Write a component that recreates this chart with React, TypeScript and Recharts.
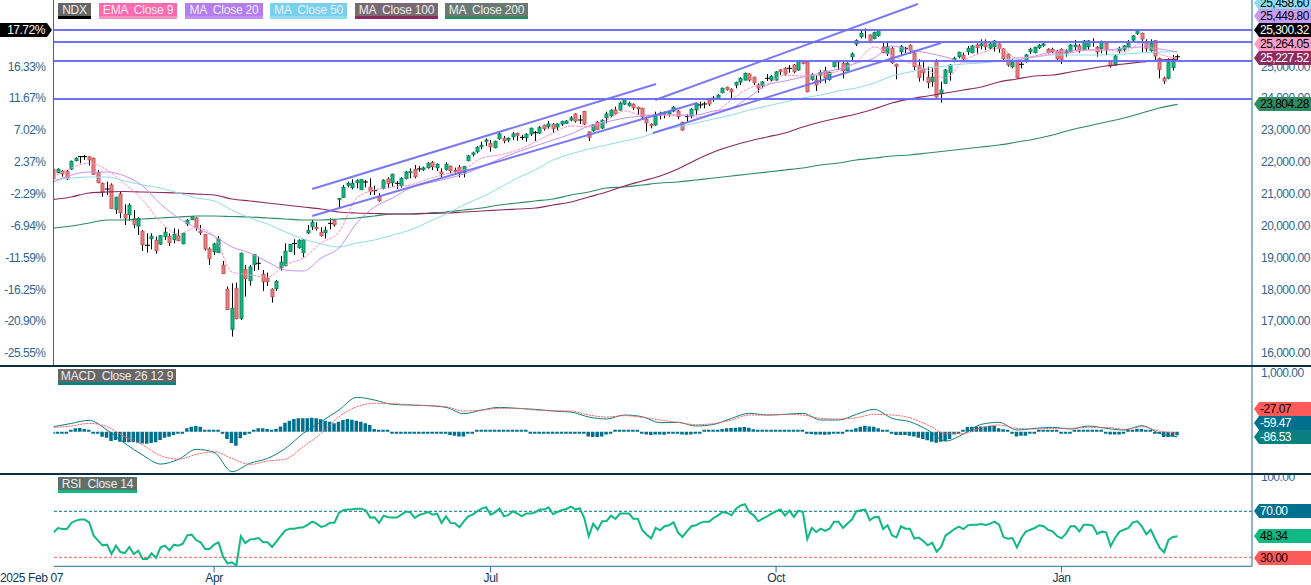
import {
  Bar,
  ComposedChart,
  Line,
  ReferenceLine,
  XAxis,
  YAxis,
} from "recharts";

const opens = [
  21767,21663,21705,21694,21778,22039,22165,22165,22154,22112,
  21663,21326,21148,21274,20510,20992,20353,20343,20217,19987,
  19820,19381,19590,19538,19422,19653,19663,19558,19674,19433,
  20061,20186,20238,19820,19715,19266,19182,19151,18753,17999,
  16745,18031,17090,18628,18272,18774,18816,18471,18345,17999,
  18021,18680,18743,19192,19433,19307,19151,19778,19966,19945,
  19789,19778,20071,20155,20824,20887,21263,21190,21347,21128,
  21368,21201,21096,20908,21170,21463,21348,21327,21254,21484,
  21662,21766,21777,21766,21818,21986,21818,21682,21766,21860,
  21735,21829,21662,22038,22237,22321,22477,22645,22582,22446,
  22728,22739,22687,22791,22896,22770,22760,22875,22917,22906,
  23147,23105,23178,23095,23189,23210,23314,23502,23314,23586,
  22938,22979,23241,23063,23387,23450,23628,23628,23816,23774,
  23806,23712,23680,23325,23178,23157,23471,23503,23513,23597,
  23597,23231,23420,23441,23629,23786,23817,23943,23995,23995,
  24173,24340,24277,24413,24507,24570,24758,24654,24413,24403,
  24623,24570,24570,24884,24936,24936,25041,24884,25146,25125,
  24591,24570,24727,24863,24591,24989,25146,25093,24863,25302,
  25700,25930,26139,25982,25878,25961,25606,25407,25564,25062,
  25459,25564,25658,25417,25010,24905,24654,24518,25135,24152,
  24466,24811,25146,25302,25344,25459,25428,25669,25648,25742,
  25574,25616,25700,25543,25376,24989,25177,25062,25146,25459,
  25428,25585,25658,25533,25533,25480,25533,25417,25459,25616,
  25637,25533,25616,25752,25595,25564,25721,25177,25041,25491,
  25533,25616,25825,26035,26035,25742,25491,25804,25250,24623,
  24623,24957,25300,
];

const closes = [
  21485,21767,21621,21464,22018,22112,22165,22165,22060,21610,
  21349,21044,21148,20542,20887,20406,20238,20636,20029,20217,
  19402,19381,19663,19213,19684,19789,19464,19726,19527,19757,
  20165,20280,19945,19778,19266,18962,19422,19579,18492,17362,
  17404,17079,19130,18335,18701,19088,18816,18240,18240,17770,
  18251,18847,19192,19412,19433,19538,19548,19851,20102,19904,
  19684,19851,20071,20029,20855,21201,21326,21326,21410,21441,
  21368,21065,21096,20782,21421,21316,21609,21327,21484,21682,
  21693,21536,21777,21808,21954,21850,21923,21630,21923,21724,
  21703,21641,21850,22185,22279,22446,22519,22687,22477,22645,
  22875,22666,22739,22875,22833,22770,22864,23053,22917,23074,
  23042,23189,23042,23189,23262,23283,23377,23283,23314,23189,
  22770,23168,23021,23304,23502,23617,23513,23837,23942,23837,
  23701,23670,23408,23230,23147,23482,23524,23555,23565,23712,
  23419,23001,23420,23650,23838,23786,23817,23817,23995,24089,
  24309,24277,24204,24487,24623,24779,24570,24487,24319,24507,
  24623,24675,24821,24832,24758,24936,24832,25146,25093,24204,
  24727,24413,24811,24643,24800,25146,25146,24863,25093,25386,
  25804,26035,26139,25752,26055,26118,25438,25606,25114,25000,
  25616,25564,25512,24989,24654,24800,24487,24654,24037,24256,
  24884,25041,25250,25438,25229,25564,25637,25585,25700,25616,
  25700,25794,25564,25240,25041,25125,24643,25062,25355,25533,
  25595,25658,25700,25428,25459,25240,25219,25480,25669,25669,
  25491,25794,25794,25752,25449,25773,25543,25010,25323,25564,
  25637,25721,25951,26118,25857,25564,25721,25323,24905,24539,
  25114,25219,25300,
];

const highs = [
  21799,21799,21746,21746,22039,22144,22186,22217,22186,22133,
  21746,21347,21379,21326,20908,21065,20667,20699,20489,20259,
  19862,19757,19757,19653,19705,19945,19757,19914,19883,19767,
  20207,20301,20259,20019,19726,19318,19464,19674,18889,18084,
  18188,18209,19151,18764,18764,19109,19025,18607,18523,18031,
  18293,19046,19443,19422,19569,19569,19569,20019,20176,20102,
  19945,19966,20228,20207,20855,21274,21379,21452,21452,21452,
  21431,21483,21253,21012,21452,21515,21630,21400,21515,21714,
  21797,21902,21871,21850,21996,22028,21954,21797,21986,21881,
  21818,21902,21871,22216,22320,22498,22634,22739,22687,22666,
  22917,22812,22770,22938,22917,22843,22896,23074,22969,23126,
  23168,23283,23210,23210,23293,23314,23440,23523,23471,23597,
  22959,23189,23283,23335,23576,23649,23733,23890,23963,23890,
  23837,23733,23701,23419,23210,23576,23576,23576,23607,23753,
  23628,23263,23493,23681,23859,23890,23890,23995,24068,24131,
  24330,24361,24309,24518,24654,24800,24779,24675,24466,24539,
  24759,24727,24853,24915,24968,25041,25072,25166,25166,25146,
  24779,24727,24884,24989,24832,25177,25198,25146,25125,25438,
  25846,26139,26191,26000,26087,26139,25773,25773,25616,25083,
  25669,25616,25689,25449,25219,25198,24989,24936,25219,24518,
  24915,25062,25302,25459,25428,25637,25669,25721,25846,25846,
  25742,25825,25721,25564,25407,25219,25198,25177,25386,25585,
  25616,25700,25742,25564,25585,25512,25564,25533,25700,25825,
  25700,25825,25825,25878,25637,25804,25742,25198,25355,25616,
  25669,25825,25982,26160,26056,25846,25846,25825,25271,24675,
  25250,25355,25376,
];

const lows = [
  21454,21642,21537,21433,21746,22018,21956,22060,21882,21590,
  21328,20908,20960,20521,20364,20228,20019,20155,19914,19705,
  19203,19151,19255,19119,19391,19548,19360,19443,19506,19412,
  19987,20176,19841,19705,19213,18763,19077,19140,18481,17351,
  16515,17058,17038,17770,18115,18575,18607,17948,18105,17582,
  17948,18586,18722,19171,19077,19276,19004,19736,19862,19841,
  19653,19590,19883,19966,20573,20866,21201,21138,21169,21117,
  21201,20960,20960,20751,21139,21170,21222,21149,21191,21452,
  21484,21484,21693,21714,21787,21745,21714,21515,21724,21641,
  21588,21515,21515,22017,22164,22268,22394,22498,22320,22425,
  22687,22582,22613,22687,22666,22687,22634,22812,22655,22875,
  22979,23042,22917,23000,23126,23189,23272,23230,23189,23157,
  22655,22948,23000,23032,23210,23398,23471,23607,23785,23733,
  23628,23471,23314,22948,23053,23136,23335,23367,23419,23555,
  23335,22980,23263,23367,23472,23681,23681,23754,23890,23974,
  24152,24236,23995,24309,24413,24549,24518,24413,24173,24309,
  24539,24518,24549,24727,24696,24800,24779,24863,25062,24183,
  24549,24225,24466,24466,24549,24968,24884,24623,24853,25198,
  25637,25878,25878,25721,25846,25930,25407,25323,25072,24591,
  25355,25407,25407,24884,24518,24549,24309,24361,24016,23859,
  24445,24549,25125,25250,25146,25355,25407,25407,25533,25512,
  25533,25459,25428,25198,24989,24936,24623,24936,25114,25386,
  25407,25543,25616,25407,25407,25198,25072,25302,25438,25512,
  25428,25512,25512,25616,25302,25407,25355,24957,25020,25407,
  25459,25564,25773,25982,25438,25459,25459,25146,24623,24445,
  24591,24863,25198,
];

// moving averages and the two MACD lines are read every fourth session
const SAMPLE = 4;

const ema9 = [
  21525,21808,21964,21745,21305,20803,20112,19736,19924,19673,
  18543,18449,18386,18763,18982,19453,19799,20866,21117,21211,
  21274,21462,21619,21745,22121,22216,22373,22624,22906,23126,
  23094,23314,23597,23471,23471,23471,23408,23534,23942,24319,
  24444,24727,24695,24727,24852,25135,25606,25323,25103,24884,
  24633,25166,25417,25574,25260,25292,25386,25417,25511,25511,
  25449,25731,25386,25264,
];
const ma20 = [
  21368,21588,21682,21682,21556,21243,20677,20238,19924,19673,
  19328,19139,18857,18606,18574,18982,19296,20081,20583,20866,
  21180,21337,21462,21619,21839,22090,22310,22498,22686,22875,
  23126,23251,23377,23440,23471,23471,23471,23597,23691,24036,
  24413,24538,24664,24789,24915,25103,25260,25637,25511,25417,
  25292,25135,25135,25166,25197,25323,25449,25480,25511,25511,
  25574,25606,25543,25450,
];
const ma50 = [
  21431,21494,21525,21525,21399,21274,21180,21023,20866,20772,
  20489,20238,20050,19799,19579,19422,19328,19453,19547,19704,
  19861,20112,20363,20646,20897,21180,21494,21745,22059,22247,
  22404,22529,22655,22781,22969,23094,23220,23345,23471,23628,
  23754,23879,24005,24099,24225,24319,24476,24695,24821,24946,
  25009,25072,25103,25166,25260,25292,25354,25354,25354,25354,
  25386,25417,25449,25459,
];
const ma100 = [
  20819,20897,21023,21054,21070,21054,21038,21023,20991,20960,
  20834,20772,20709,20646,20583,20520,20426,20395,20379,20363,
  20363,20379,20395,20426,20458,20489,20520,20552,20646,20740,
  20897,21054,21243,21399,21556,21776,22059,22310,22498,22655,
  22781,22906,23094,23251,23377,23502,23659,23848,23973,24068,
  24162,24256,24350,24507,24601,24695,24727,24821,24915,25009,
  25072,25135,25197,25227,
];
const ma200 = [
  19924,19987,20081,20175,20175,20207,20238,20269,20301,20301,
  20285,20269,20238,20207,20175,20175,20207,20238,20301,20363,
  20363,20395,20426,20489,20552,20646,20709,20772,20834,20960,
  21054,21180,21211,21274,21337,21368,21431,21494,21556,21619,
  21682,21745,21808,21902,21964,22059,22121,22184,22216,22278,
  22341,22404,22467,22529,22624,22718,22843,23000,23126,23251,
  23377,23534,23691,23804,
];

const hLevels = [26139, 25763, 25166, 23973];

// [first session, first price, last session, last price]
const channels = [
  [58, 21148, 135.1, 24444],
  [58, 20301, 144.3, 23848],
  [134.9, 23942, 193.8, 26955],
  [134.4, 22906, 199, 25731],
];

const priceTicks = [16000, 17000, 18000, 19000, 20000, 21000, 22000, 23000, 24000, 25000];
const pctTicks = [-25.55, -20.9, -16.25, -11.59, -6.94, -2.29, 2.37, 7.02, 11.67, 16.33];
const BASE_PRICE = 21490;

const macdHist = [
  -17,-17,-17,-11,29,57,63,46,23,-11,
  -34,-86,-103,-160,-143,-171,-182,-182,-182,-188,
  -200,-205,-194,-182,-143,-103,-86,-57,-29,-17,
  57,86,97,86,29,17,17,23,-23,-125,
  -194,-239,-114,-57,-34,17,57,57,46,17,
  46,91,154,188,217,228,228,228,239,228,
  211,188,171,143,171,200,217,205,188,171,
  143,114,46,34,29,17,-6,-6,-6,-11,
  -11,-6,-11,-23,-23,-17,-23,-29,-34,-57,
  -68,-80,-80,-34,-23,6,17,29,34,34,
  34,29,17,17,11,11,3,-6,-6,-6,
  -11,-6,-6,-17,-11,-11,-11,-17,-17,-29,
  -80,-91,-91,-80,-46,-34,6,17,34,29,
  23,17,-23,-46,-57,-46,-46,-51,-17,-17,
  -34,-46,-51,-46,-17,-6,6,17,29,29,
  46,57,63,68,74,80,68,40,29,17,
  11,11,11,11,11,6,11,11,17,-29,
  -40,-46,-46,-51,-46,-17,-17,-6,6,17,
  57,86,103,91,86,57,23,11,-23,-57,
  -57,-57,-68,-80,-103,-125,-148,-171,-188,-171,
  -160,-125,-46,-17,17,80,86,91,91,91,
  97,103,57,40,6,-17,-80,-68,-68,-34,
  -6,11,34,34,23,6,-11,-11,-6,6,
  11,23,23,23,11,6,-6,-46,-46,-46,
  -11,11,23,51,46,23,11,-6,-29,-91,
  -91,-80,-59,
];
const macdLine = [
  85,142,194,28,-200,-400,-553,-473,-302,-353,
  -684,-541,-456,-285,-29,171,370,587,541,467,
  456,445,416,308,370,416,399,382,353,336,
  251,217,285,256,154,160,97,125,228,314,
  285,296,314,200,200,296,382,228,171,29,
  -160,-40,125,160,29,57,74,46,97,57,
  29,103,-29,-87,
];
const macdSignal = [
  74,97,142,85,-86,-228,-410,-467,-388,-342,
  -456,-559,-502,-467,-257,-29,256,427,485,479,
  456,445,427,353,370,399,399,370,359,353,
  285,251,274,245,200,160,120,137,200,285,
  285,296,285,228,217,239,296,285,239,114,
  -29,-29,68,114,57,46,57,57,74,74,
  40,85,11,-27,
];

const rsi = [
  51.7,55.5,54.6,54.6,59.9,61.9,62.8,62.8,60.4,48.8,
  44.5,40.4,41,32.9,40.1,34.6,33.7,39,32.9,35.8,
  28.5,28.5,33.5,29.4,38.7,40.1,36.1,41,40.1,41.9,
  49.1,49.7,44.8,43,37.2,37.2,41,43,30.9,24.5,
  25.6,23,48.3,42.4,45.4,45.9,46.8,43,43,39,
  43.9,48.8,53.5,54.9,54.9,55.8,56.1,58.4,61,59.3,
  56.4,57.5,60.1,60.1,68.6,70.9,71.5,71.7,72.3,72.3,
  70.9,64.5,64.8,59.9,66.2,64.8,64.5,64.5,67.1,69.7,
  69.1,64.2,66.8,68,69.4,67.1,68,59.9,65.6,59.9,
  59.6,56.1,61.3,65.6,67.1,70,72.3,73.5,67.1,69.1,
  72.3,65.6,66.8,70,68,65.9,68,68,69.1,71.5,
  71.5,73.5,67.4,69.4,71.2,72,74,71.5,72.6,64.2,
  48.3,59.3,54,61.3,61.6,66.2,63.3,68,68,68,
  63.6,63.6,53.5,49.7,46.5,55.5,53.5,57,57.8,60.4,
  51.7,47.7,52.6,57,57.8,59.9,61,61,64.2,66.5,
  69.4,68.6,66.5,72,74.9,76.1,69.1,66.5,61.3,63.6,
  65.6,68,70,71.5,66.2,70.6,65.1,70.6,69.4,45.9,
  55.5,52,54.9,52.9,54.9,61,61,55.5,59.3,62.8,
  70,70.9,71.5,62.2,64.8,65.1,54.6,57.8,49.1,47.4,
  57,54.9,54.9,46.2,47.1,44.2,40.4,42.7,34.9,39,
  49.1,51.7,54.6,56.7,54.6,57.8,58.4,58.4,59,58.1,
  59.3,61,58.4,47.4,46.2,46.8,38.7,46.8,52.3,54,
  55.5,57.8,57,53.8,52.6,48.5,46.5,50.6,57,57,
  52.6,58.4,58.4,57.5,50.3,52.3,51.7,39.6,46.8,52.3,
  54,55.5,60.4,61.3,57,50,54,45.9,38.1,34.3,
  45.4,47.7,48.34,
];

const dateTicks = [0, 36, 98, 162, 226];
const dateLabels = ["2025 Feb 07", "Apr", "Jul", "Oct", "Jan"];

const sampled = (list: number[], i: number) =>
  i % SAMPLE === 0 ? list[i / SAMPLE] : null;

const rows = closes.map((close, i) => ({
  i,
  open: opens[i],
  high: highs[i],
  low: lows[i],
  close,
  range: [lows[i], highs[i]],
  ema9: sampled(ema9, i),
  ma20: sampled(ma20, i),
  ma50: sampled(ma50, i),
  ma100: sampled(ma100, i),
  ma200: sampled(ma200, i),
  hist: macdHist[i],
  macd: sampled(macdLine, i),
  signal: sampled(macdSignal, i),
  rsi: rsi[i],
}));

const WIDTH = 1311;
const X_DOMAIN: [number, number] = [0, 268.7];
const PRICE_DOMAIN: [number, number] = [15592, 27081];
const PCT_DOMAIN: [number, number] = [
  (PRICE_DOMAIN[0] / BASE_PRICE - 1) * 100,
  (PRICE_DOMAIN[1] / BASE_PRICE - 1) * 100,
];
const AXIS_COLOR = "#2b6c8f";
const LEVEL_COLOR = "#6a6af5";
const tickStyle = { fontSize: 12, fill: "#2f6690", letterSpacing: -0.5 };
const fmtNum = (v: number) =>
  v.toLocaleString("en-US", { minimumFractionDigits: 2, maximumFractionDigits: 2 });

function Candle(props: any) {
  const { x, y, width, height, payload } = props;
  const { open, close, high, low } = payload;
  const cx = Math.round(x + width / 2) + 0.5;
  const k = height / (high - low);
  const top = y + (high - Math.max(open, close)) * k;
  const bottom = y + (high - Math.min(open, close)) * k;
  const up = close > open;
  return (
    <g>
      <line x1={cx} x2={cx} y1={y} y2={y + height} stroke="#000" strokeWidth={1} />
      {open === close ? (
        <line x1={cx - 2.5} x2={cx + 2.5} y1={top} y2={top} stroke="#000" strokeWidth={1} />
      ) : (
        <rect
          x={cx - 1.5}
          y={top}
          width={3}
          height={Math.max(bottom - top, 1)}
          fill={up ? "#10b981" : "#e58080"}
          stroke={up ? "#0e8a64" : "#c95c5c"}
          strokeWidth={1}
        />
      )}
    </g>
  );
}

// tick geometry inside the 111px high RSI chart
const AXIS_Y = 92.3;

function DateTick(props: any) {
  const { x, payload } = props;
  const idx = dateTicks.indexOf(payload.value);
  const first = idx === 0;
  return (
    <g>
      {!first && <line x1={x} x2={x} y1={AXIS_Y} y2={AXIS_Y + 6} stroke={AXIS_COLOR} />}
      <text
        x={first ? 0 : x}
        y={AXIS_Y + 16}
        textAnchor={first ? "start" : "middle"}
        fontSize={12}
        letterSpacing={-0.4}
        fill="#0e3a5c"
      >
        {dateLabels[idx]}
      </text>
    </g>
  );
}

function Tag({ left, top, width, text, bg, under }: any) {
  return (
    <div
      style={{
        position: "absolute",
        left,
        top,
        width,
        height: 13,
        background: bg,
        borderBottom: `3px solid ${under}`,
        color: "#eee",
        fontSize: 12,
        letterSpacing: -0.2,
        lineHeight: "14px",
        textAlign: "center",
        whiteSpace: "pre",
        overflow: "hidden",
      }}
    >
      {text}
    </div>
  );
}

function Badge({ y, text, bg, fg }: any) {
  return (
    <div
      style={{
        position: "absolute",
        left: 1254,
        top: y - 7,
        width: 57,
        height: 14,
        background: bg,
        color: fg,
        fontSize: 12,
        letterSpacing: -0.5,
        lineHeight: "14px",
        paddingLeft: 6,
        boxSizing: "border-box",
        clipPath: "polygon(0 50%, 5px 0, 100% 0, 100% 100%, 5px 100%)",
      }}
    >
      {text}
    </div>
  );
}

export default function App() {
  return (
    <div
      style={{
        position: "absolute",
        left: 0,
        top: 0,
        width: WIDTH,
        height: 585,
        overflow: "hidden",
        background: "#fff",
        fontFamily: "'Liberation Sans', Arial, sans-serif",
      }}
    >
      <div style={{ position: "absolute", left: 0, top: 0 }}>
        <ComposedChart
          width={WIDTH}
          height={366}
          data={rows}
          margin={{ top: 0, right: 0, bottom: 0, left: 0 }}
        >
          <XAxis type="number" dataKey="i" domain={X_DOMAIN} allowDataOverflow hide />
          <YAxis
            yAxisId="pct"
            orientation="left"
            width={53.5}
            domain={PCT_DOMAIN}
            allowDataOverflow
            ticks={pctTicks}
            interval={0}
            tickLine={false}
            tickSize={0}
            tickMargin={8}
            tick={tickStyle}
            tickFormatter={(v) => `${v.toFixed(2)}%`}
            axisLine={{ stroke: AXIS_COLOR }}
          />
          <YAxis
            yAxisId="price"
            orientation="right"
            width={59}
            domain={PRICE_DOMAIN}
            allowDataOverflow
            ticks={priceTicks}
            interval={0}
            tickLine={false}
            tickSize={0}
            tickMargin={9}
            tick={tickStyle}
            tickFormatter={fmtNum}
            axisLine={{ stroke: AXIS_COLOR }}
          />
          <Line yAxisId="price" type="monotone" dataKey="ma200" connectNulls dot={false} stroke="#2e8b62" strokeWidth={1.2} isAnimationActive={false} />
          <Line yAxisId="price" type="monotone" dataKey="ma100" connectNulls dot={false} stroke="#8e2a60" strokeWidth={1.2} isAnimationActive={false} />
          <Line yAxisId="price" type="monotone" dataKey="ma50" connectNulls dot={false} stroke="#8ddcf0" strokeWidth={1} isAnimationActive={false} />
          <Line yAxisId="price" type="monotone" dataKey="ma20" connectNulls dot={false} stroke="#c490f5" strokeWidth={1} isAnimationActive={false} />
          <Line yAxisId="price" type="monotone" dataKey="ema9" connectNulls dot={false} stroke="#ff90c0" strokeWidth={1} strokeDasharray="3 1" isAnimationActive={false} />
          <Bar yAxisId="price" dataKey="range" barSize={4} shape={<Candle />} isAnimationActive={false} />
          {hLevels.map((level) => (
            <ReferenceLine key={level} yAxisId="price" y={level} stroke={LEVEL_COLOR} strokeWidth={2} strokeOpacity={0.95} />
          ))}
          {channels.map(([x1, y1, x2, y2]) => (
            <ReferenceLine
              key={`${x1}-${y1}`}
              yAxisId="price"
              segment={[
                { x: x1, y: y1 },
                { x: x2, y: y2 },
              ]}
              stroke={LEVEL_COLOR}
              strokeWidth={2}
              strokeOpacity={0.9}
            />
          ))}
        </ComposedChart>
      </div>

      <div style={{ position: "absolute", left: 0, top: 366 }}>
        <ComposedChart
          width={WIDTH}
          height={108}
          data={rows}
          margin={{ top: 0, right: 0, bottom: 0, left: 53.5 }}
        >
          <XAxis type="number" dataKey="i" domain={X_DOMAIN} allowDataOverflow hide />
          <YAxis
            orientation="right"
            width={59}
            domain={[-723, 1123]}
            allowDataOverflow
            ticks={[1000]}
            interval={0}
            tickLine={false}
            tickSize={0}
            tickMargin={9}
            tick={tickStyle}
            tickFormatter={fmtNum}
            axisLine={{ stroke: AXIS_COLOR }}
          />
          <Bar dataKey="hist" barSize={3.5} fill="#00708f" minPointSize={2} isAnimationActive={false} />
          <Line type="monotone" dataKey="macd" connectNulls dot={false} stroke="#0a7f7f" strokeWidth={1} isAnimationActive={false} />
          <Line type="monotone" dataKey="signal" connectNulls dot={false} stroke="#ff5a5a" strokeWidth={1} strokeDasharray="2 1" isAnimationActive={false} />
        </ComposedChart>
      </div>

      <div style={{ position: "absolute", left: 0, top: 474 }}>
        <ComposedChart
          width={WIDTH}
          height={111}
          data={rows}
          margin={{ top: 0, right: 0, bottom: 0, left: 53.5 }}
        >
          <XAxis
            type="number"
            dataKey="i"
            domain={X_DOMAIN}
            allowDataOverflow
            height={18.7}
            ticks={dateTicks}
            interval={0}
            tickLine={false}
            tick={<DateTick />}
            axisLine={{ stroke: AXIS_COLOR }}
          />
          <YAxis
            orientation="right"
            width={59}
            domain={[22.2, 102.4]}
            allowDataOverflow
            ticks={[100]}
            interval={0}
            tickLine={false}
            tickSize={0}
            tickMargin={9}
            tick={tickStyle}
            tickFormatter={fmtNum}
            axisLine={{ stroke: AXIS_COLOR }}
          />
          <ReferenceLine y={70} stroke="#00708f" strokeDasharray="3 2" />
          <ReferenceLine y={30} stroke="#ff5a5a" strokeDasharray="3 2" />
          <Line dataKey="rsi" dot={false} stroke="#10b981" strokeWidth={2} isAnimationActive={false} />
        </ComposedChart>
      </div>

      <div style={{ position: "absolute", left: 0, top: 365, width: WIDTH, height: 2, background: "#0a3040" }} />
      <div style={{ position: "absolute", left: 0, top: 473, width: WIDTH, height: 2, background: "#0a3040" }} />

      <Tag left={58} top={3} width={33} text="NDX" bg="#666" under="#000" />
      <Tag left={99} top={3} width={78} text="EMA  Close 9" bg="#ff69b0" under="#ff90c0" />
      <Tag left={185} top={3} width={78} text="MA  Close 20" bg="#b47ef0" under="#c490f5" />
      <Tag left={270} top={3} width={77} text="MA  Close 50" bg="#78d0f0" under="#8ddcf0" />
      <Tag left={355} top={3} width={83} text="MA  Close 100" bg="#786a70" under="#8e2a60" />
      <Tag left={445} top={3} width={83} text="MA  Close 200" bg="#6a7a72" under="#2e8b62" />
      <Tag left={58} top={369} width={118} text="MACD  Close 26 12 9" bg="#666" under="#0a7f7f" />
      <Tag left={58} top={477} width={79} text="RSI  Close 14" bg="#607068" under="#10b981" />

      <div
        style={{
          position: "absolute",
          left: 0,
          top: 23,
          width: 52,
          height: 14,
          background: "#000",
          color: "#fff",
          fontSize: 12,
          letterSpacing: -0.5,
          lineHeight: "14px",
          textAlign: "center",
          clipPath: "polygon(0 0, 47px 0, 100% 50%, 47px 100%, 0 100%)",
        }}
      >
        17.72%
      </div>

      <Badge y={3} text="25,458.60" bg="#8ddcf0" fg="#000" />
      <Badge y={16} text="25,449.80" bg="#c79cf5" fg="#000" />
      <Badge y={30} text="25,300.32" bg="#000" fg="#fff" />
      <Badge y={44} text="25,264.05" bg="#ff9cc4" fg="#000" />
      <Badge y={58} text="25,227.52" bg="#8e2a60" fg="#fff" />
      <Badge y={104} text="23,804.28" bg="#2e8b62" fg="#000" />
      <Badge y={409} text="-27.07" bg="#ff5a5a" fg="#000" />
      <Badge y={423} text="-59.47" bg="#00708f" fg="#fff" />
      <Badge y={437} text="-86.53" bg="#0a7f7f" fg="#fff" />
      <Badge y={511} text="70.00" bg="#00708f" fg="#fff" />
      <Badge y={536} text="48.34" bg="#10b981" fg="#000" />
      <Badge y={558} text="30.00" bg="#ff5a5a" fg="#000" />
    </div>
  );
}
